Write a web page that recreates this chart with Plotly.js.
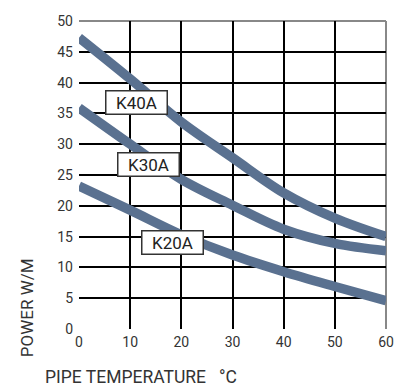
<!DOCTYPE html>
<html>
<head>
<meta charset="utf-8">
<script src="https://cdn.plot.ly/plotly-3.0.1.min.js"></script>
<style>html,body{margin:0;padding:0;background:#fff;}#chart{width:394px;height:386px;}</style>
</head>
<body>
<div id="chart"></div>
<script>
// Data
const temperatures = [0, 10, 20, 30, 40, 50, 60];
const k40a = [47.3, 40.6, 33.6, 27.8, 22.1, 18.0, 15.0];
const k30a = [35.9, 30.0, 24.3, 20.1, 16.2, 13.9, 12.7];
const k20a = [23.2, 19.3, 15.3, 12.0, 9.3, 6.9, 4.6];
const seriesNames = ['K40A', 'K30A', 'K20A'];
const labelX = [11.3, 13.6, 18.2];
const labelY = [36.8, 26.7, 14.1];
const xTicks = [0, 10, 20, 30, 40, 50, 60];
const yTicks = [0, 5, 10, 15, 20, 25, 30, 35, 40, 45, 50];
const xGrid = [10, 20, 30, 40, 50];
const yGrid = [5, 10, 15, 20, 25, 30, 35, 40, 45];
const xTitle = 'PIPE TEMPERATURE\u00a0\u00a0\u00a0°C';
const yTitle = 'POWER W/M';

const lineColor = '#5a7190';
const fontFam = 'Roboto, "DejaVu Sans", sans-serif';

const seriesData = [k40a, k30a, k20a];
const traces = seriesData.map((ys, i) => ({
  x: temperatures, y: ys, type: 'scatter', mode: 'lines',
  name: seriesNames[i],
  line: {color: lineColor, width: 9.5, shape: 'spline', smoothing: 1},
  xaxis: 'x', yaxis: 'y', hoverinfo: 'skip'
}));

const annotations = seriesNames.map((n, i) => ({
  x: labelX[i], y: labelY[i], xref: 'x', yref: 'y', text: n, showarrow: false,
  bgcolor: '#ffffff', bordercolor: '#333333', borderwidth: 1.5, borderpad: 1,
  width: 58, height: 20, align: 'center', valign: 'middle',
  font: {family: fontFam, size: 17, color: '#222'}
}));
annotations.push({
  text: yTitle, xref: 'paper', yref: 'paper', x: -0.169, y: 0.068,
  xanchor: 'center', yanchor: 'middle', textangle: -90, showarrow: false,
  font: {family: fontFam, size: 17, color: '#333'}
});
annotations.push({
  text: xTitle, xref: 'paper', yref: 'paper', x: -0.117, y: -0.155,
  xanchor: 'left', yanchor: 'middle', showarrow: false,
  font: {family: fontFam, size: 17.5, color: '#333'}
});

const layout = {
  width: 394, height: 386,
  margin: {l: 79, r: 8, t: 21, b: 57},
  paper_bgcolor: '#fff', plot_bgcolor: '#fff',
  showlegend: false,
  xaxis: {
    range: [0, 60], tickmode: 'array', tickvals: xGrid, showticklabels: false,
    showgrid: true, gridcolor: '#000', gridwidth: 2, zeroline: false, showline: false,
    ticks: '', fixedrange: true
  },
  yaxis: {
    range: [0, 50], tickmode: 'array', tickvals: yGrid, showticklabels: false,
    showgrid: true, gridcolor: '#000', gridwidth: 2, zeroline: false, showline: false,
    ticks: '', fixedrange: true
  },
  xaxis2: {
    range: [0, 60], overlaying: 'x', anchor: 'y2', side: 'bottom',
    tickmode: 'array', tickvals: xTicks, showgrid: false, zeroline: false, showline: false,
    ticks: '', ticklabelstandoff: 3,
    tickfont: {family: fontFam, size: 14, color: '#333'}, fixedrange: true
  },
  yaxis2: {
    range: [0, 50], overlaying: 'y', anchor: 'x2', side: 'left',
    tickmode: 'array', tickvals: yTicks, showgrid: false, zeroline: false, showline: false,
    ticks: '', ticklabelstandoff: 5,
    tickfont: {family: fontFam, size: 14, color: '#333'}, fixedrange: true
  },
  shapes: [
    {type: 'line', xref: 'paper', yref: 'paper', x0: 0, x1: 1, y0: 1, y1: 1,
     line: {color: '#888', width: 2}, layer: 'below'},
    {type: 'line', xref: 'paper', yref: 'paper', x0: 1, x1: 1, y0: 0, y1: 1,
     line: {color: '#888', width: 2}, layer: 'below'}
  ],
  annotations: annotations
};

// empty trace on the label axes so they are drawn
traces.push({x: [], y: [], type: 'scatter', mode: 'lines', xaxis: 'x2', yaxis: 'y2', hoverinfo: 'skip', showlegend: false});

Plotly.newPlot('chart', traces, layout, {displayModeBar: false, staticPlot: true});
</script>
</body>
</html>
